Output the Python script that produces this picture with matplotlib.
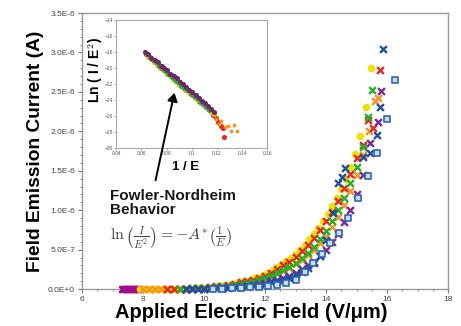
import numpy as np
import matplotlib
matplotlib.use("Agg")
import matplotlib.pyplot as plt
from matplotlib.patches import FancyArrowPatch
from matplotlib.ticker import MultipleLocator, FuncFormatter

plt.rcParams["font.family"] = ["Liberation Sans", "DejaVu Sans"]
plt.rcParams["mathtext.fontset"] = "cm"

# ---------------------------------------------------------
# Main data: applied field (V/um) vs emission current (uA)
# ---------------------------------------------------------
E_magenta = [7.30, 7.35, 7.40, 7.45, 7.50, 7.55, 7.60, 7.65, 7.70, 7.75, 7.80, 7.85, 7.90]
I_magenta = [0, 0, 0, 0, 0, 0, 0, 0, 0, 0, 0, 0, 0]

E_yellow = [7.90, 8.05, 8.20, 8.35, 8.50, 8.65, 8.80, 8.95, 9.10, 9.25, 9.40, 9.55, 9.70, 9.85,
            10.00, 10.15, 10.30, 10.45, 10.60, 10.75, 10.90, 11.05, 11.20, 11.35, 11.50, 11.65,
            11.80, 11.95, 12.10, 12.25, 12.40, 12.55, 12.70, 12.85, 13.00, 13.15, 13.30, 13.45,
            13.60, 13.75, 13.90, 14.05, 14.20, 14.35, 14.50, 14.65, 14.80, 14.95, 15.10, 15.30, 15.47]
I_yellow = [0, 0, 0, 0, 0, 0, 0, 0.001, 0.002, 0.003, 0.005, 0.007, 0.010, 0.014,
            0.018, 0.023, 0.030, 0.037, 0.045, 0.055, 0.065, 0.077, 0.090, 0.105, 0.120, 0.140,
            0.160, 0.185, 0.210, 0.245, 0.280, 0.320, 0.360, 0.400, 0.450, 0.500, 0.560, 0.630,
            0.700, 0.780, 0.860, 0.950, 1.050, 1.160, 1.270, 1.400, 1.550, 1.710, 1.940, 2.310, 2.800]

E_orange = [8.0, 8.2, 8.4, 8.6, 8.8, 9.0, 9.2, 9.4, 9.6, 9.8, 10.0, 10.2, 10.4, 10.6, 10.8,
            11.0, 11.2, 11.4, 11.6, 11.8, 12.0, 12.2, 12.4, 12.6, 12.8, 13.0, 13.2, 13.4, 13.6,
            13.8, 14.0, 14.2, 14.4, 14.6, 14.8, 15.0, 15.2, 15.4, 15.6, 15.7]
I_orange = [0, 0, 0, 0, 0.001, 0.002, 0.003, 0.005, 0.008, 0.011, 0.015, 0.020, 0.026, 0.033, 0.042,
            0.052, 0.063, 0.077, 0.092, 0.110, 0.130, 0.160, 0.190, 0.230, 0.270, 0.320, 0.370, 0.430,
            0.500, 0.580, 0.680, 0.790, 0.920, 1.070, 1.250, 1.450, 1.700, 2.000, 2.380, 2.420]

E_red = [8.8, 9.0, 9.2, 9.4, 9.6, 9.8, 10.0, 10.2, 10.4, 10.6, 10.8, 11.0, 11.2, 11.4, 11.6,
         11.8, 12.0, 12.2, 12.4, 12.6, 12.8, 13.0, 13.2, 13.4, 13.6, 13.8, 14.0, 14.2, 14.4,
         14.6, 14.8, 15.0, 15.22, 15.38, 15.55, 15.77]
I_red = [0.001, 0.003, 0.005, 0.007, 0.011, 0.015, 0.021, 0.028, 0.036, 0.045, 0.056, 0.070, 0.085,
         0.100, 0.120, 0.145, 0.170, 0.210, 0.250, 0.300, 0.350, 0.410, 0.480, 0.560, 0.650, 0.750,
         0.860, 0.980, 1.120, 1.280, 1.460, 1.660, 1.830, 2.140, 2.040, 2.780]

E_green = [9.2, 9.4, 9.6, 9.8, 10.0, 10.2, 10.4, 10.6, 10.8, 11.0, 11.2, 11.4, 11.6, 11.8, 12.0,
           12.2, 12.4, 12.6, 12.8, 13.0, 13.2, 13.4, 13.6, 13.8, 14.0, 14.2, 14.4, 14.6, 14.8,
           15.0, 15.2, 15.38, 15.5]
I_green = [0.004, 0.006, 0.009, 0.012, 0.016, 0.021, 0.027, 0.034, 0.043, 0.053, 0.065, 0.079, 0.095,
           0.115, 0.140, 0.170, 0.200, 0.240, 0.280, 0.330, 0.390, 0.460, 0.540, 0.630, 0.740, 0.860,
           1.000, 1.160, 1.350, 1.550, 1.800, 2.180, 2.520]

E_purple = [9.4, 9.6, 9.8, 10.0, 10.2, 10.4, 10.6, 10.8, 11.0, 11.2, 11.4, 11.6, 11.8, 12.0, 12.2,
            12.4, 12.6, 12.8, 13.0, 13.2, 13.4, 13.6, 13.8, 14.0, 14.2, 14.4, 14.6, 14.8, 15.0,
            15.2, 15.45, 15.7, 15.8]
I_purple = [0.003, 0.004, 0.006, 0.008, 0.011, 0.014, 0.019, 0.024, 0.030, 0.038, 0.046, 0.056, 0.067,
            0.080, 0.100, 0.120, 0.145, 0.170, 0.210, 0.250, 0.300, 0.350, 0.420, 0.500, 0.600, 0.700,
            0.850, 1.000, 1.200, 1.450, 1.850, 2.120, 2.510]

E_blue = [9.4, 9.6, 9.8, 10.0, 10.2, 10.4, 10.6, 10.8, 11.0, 11.2, 11.4, 11.6, 11.8, 12.0, 12.2,
          12.4, 12.6, 12.8, 13.0, 13.2, 13.4, 13.6, 13.8, 14.0, 14.24, 14.4, 14.51, 14.62, 15.2,
          15.44, 15.66, 15.77, 15.86]
I_blue = [0.002, 0.004, 0.005, 0.007, 0.010, 0.013, 0.016, 0.020, 0.026, 0.032, 0.040, 0.048, 0.058,
          0.070, 0.085, 0.100, 0.120, 0.145, 0.180, 0.220, 0.270, 0.330, 0.420, 0.620, 0.960, 1.340,
          1.420, 1.530, 1.670, 1.720, 1.950, 2.310, 3.050]

E_bluesq = [10.3, 10.6, 10.9, 11.2, 11.5, 11.8, 12.1, 12.4, 12.7, 13.0, 13.31, 13.58, 13.86, 14.13,
            14.43, 14.73, 15.06, 15.38, 15.66, 15.99, 16.26]
I_bluesq = [0.004, 0.006, 0.010, 0.015, 0.022, 0.030, 0.042, 0.058, 0.080, 0.120, 0.220, 0.330,
            0.450, 0.590, 0.710, 0.900, 1.150, 1.430, 1.720, 2.160, 2.650]

# ---------------------------------------------------------
# Inset data: Fowler-Nordheim plot, 1/E vs ln(I/E^2)
# ---------------------------------------------------------
inv_purple = [0.0630, 0.0655, 0.0680, 0.0705, 0.0730, 0.0755, 0.0780, 0.0805, 0.0830, 0.0855, 0.0880,
              0.0905, 0.0930, 0.0955, 0.0980, 0.1005, 0.1030, 0.1055, 0.1080, 0.1105, 0.1130, 0.1155, 0.1180]
ln_purple = [-18.0, -18.3, -18.7, -19.0, -19.3, -19.7, -20.0, -20.3, -20.7, -21.0, -21.3,
             -21.7, -22.0, -22.4, -22.7, -23.0, -23.4, -23.7, -24.1, -24.4, -24.8, -25.1, -25.5]
inv_green = [0.0640, 0.0665, 0.0690, 0.0715, 0.0740, 0.0765, 0.0790, 0.0815, 0.0840, 0.0865, 0.0890,
             0.0915, 0.0940, 0.0965, 0.0990, 0.1015, 0.1040, 0.1065, 0.1090, 0.1115, 0.1140]
ln_green = [-18.3, -18.6, -19.0, -19.3, -19.7, -20.0, -20.4, -20.8, -21.1, -21.5, -21.8,
            -22.2, -22.5, -22.8, -23.2, -23.5, -23.8, -24.2, -24.5, -24.9, -25.2]
inv_yellow = [0.0650, 0.0675, 0.0700, 0.0725, 0.0750, 0.0775, 0.0800, 0.0825, 0.0850, 0.0875, 0.0900,
              0.0925, 0.0950, 0.0975, 0.1000, 0.1025, 0.1050, 0.1075, 0.1100, 0.1125, 0.1150, 0.1175]
ln_yellow = [-18.6, -18.9, -19.3, -19.6, -20.0, -20.3, -20.7, -21.0, -21.4, -21.7, -22.1,
             -22.4, -22.7, -23.1, -23.4, -23.7, -24.1, -24.4, -24.8, -25.1, -25.5, -25.8]
inv_red = [0.0640, 0.0680, 0.0720, 0.0760, 0.0800, 0.0840, 0.0880, 0.0920, 0.0960, 0.1000, 0.1040,
           0.1080, 0.1120, 0.1150, 0.1170, 0.1190, 0.1210, 0.1230, 0.1245, 0.1255]
ln_red = [-18.2, -18.8, -19.3, -19.8, -20.4, -20.9, -21.5, -22.0, -22.6, -23.1, -23.7,
          -24.3, -24.9, -25.4, -25.9, -26.3, -26.8, -27.3, -27.5, -28.6]
inv_scatter = [0.1195, 0.1215, 0.1235, 0.1260, 0.1285, 0.1310, 0.1335, 0.1360]
ln_scatter = [-26.4, -27.0, -26.6, -27.4, -27.2, -27.9, -27.1, -27.9]

# ---------------------------------------------------------
# Plot
# ---------------------------------------------------------
fig = plt.figure(figsize=(4.61, 3.26), dpi=100)
ax = fig.add_axes([0.178, 0.113, 0.794, 0.847])

u = 1e-6
kw = dict(linewidths=1.7, s=24, zorder=3, clip_on=False)
ax.scatter(E_magenta, np.array(I_magenta) * u, color="#a0108c", marker="x", s=22, linewidths=1.8,
           zorder=3, clip_on=False)
ax.scatter(E_yellow, np.array(I_yellow) * u, color="#f2e000", marker="o", s=20, zorder=3, clip_on=False)
ax.scatter(E_orange, np.array(I_orange) * u, color="#f7941d", marker="x", **kw)
ax.scatter(E_red, np.array(I_red) * u, color="#e8261f", marker="x", **kw)
ax.scatter(E_green, np.array(I_green) * u, color="#22b02a", marker="x", **kw)
ax.scatter(E_purple, np.array(I_purple) * u, color="#7a2a96", marker="x", **kw)
ax.scatter(E_blue, np.array(I_blue) * u, color="#1f4f9e", marker="x", **kw)
ax.scatter(E_bluesq, np.array(I_bluesq) * u, facecolor="#c8dcf4", edgecolor="#2e64b4",
           marker="s", s=16, linewidths=1.2, zorder=3, clip_on=False)

ax.set_xlim(6, 18)
ax.set_ylim(0, 3.5e-6)
ax.xaxis.set_major_locator(MultipleLocator(2))
ax.xaxis.set_minor_locator(MultipleLocator(0.5))
ax.yaxis.set_major_locator(MultipleLocator(0.5e-6))
ax.yaxis.set_minor_locator(MultipleLocator(0.1e-6))


def sci_fmt(v, pos):
    if abs(v) < 1e-12:
        return "0.0E+0"
    exp = int(np.floor(np.log10(abs(v))))
    return f"{v / 10 ** exp:.1f}E{exp}"


ax.yaxis.set_major_formatter(FuncFormatter(sci_fmt))
ax.tick_params(which="both", direction="out", colors="#777777", labelcolor="#444444", labelsize=6)
ax.tick_params(which="major", length=3, width=0.8, pad=2)
ax.tick_params(which="minor", length=1.5, width=0.6)
for sp in ax.spines.values():
    sp.set_color("#999999")
    sp.set_linewidth(1.0)

ax.set_xlabel("Applied Electric Field (V/\u03bcm)", fontsize=14.5, fontweight="bold")
ax.xaxis.set_label_coords(0.463, -0.05)
ax.set_ylabel("Field Emission Current (A)", fontsize=13.8, fontweight="bold", labelpad=3)

# inset Fowler-Nordheim plot
ins = fig.add_axes([0.252, 0.546, 0.328, 0.393])
ins.scatter(inv_red, ln_red, color="#e8261f", s=7, zorder=3)
ins.scatter(inv_yellow, ln_yellow, color="#f2c000", s=7, zorder=3)
ins.scatter(inv_green, ln_green, color="#2fa84f", s=7, zorder=3)
ins.scatter(inv_purple, ln_purple, color="#6a2a6a", s=7, zorder=3)
ins.scatter(inv_scatter, ln_scatter, color="#f7941d", s=3, zorder=3)
ins.set_xlim(0.04, 0.16)
ins.set_ylim(-30, -14)
ins.set_xticks([0.04, 0.06, 0.08, 0.10, 0.12, 0.14, 0.16])
ins.set_xticklabels(["0.04", "0.06", "0.08", "0.1", "0.12", "0.14", "0.16"])
ins.yaxis.set_major_locator(MultipleLocator(2))
ins.tick_params(which="both", direction="out", colors="#888888", labelcolor="#555555",
                labelsize=3.5, length=1.5, width=0.5, pad=1)
for sp in ins.spines.values():
    sp.set_color("#aaaaaa")
    sp.set_linewidth(0.8)
ins.set_xlabel("1 / E", fontsize=9.5, fontweight="bold")
ins.xaxis.set_label_coords(0.46, -0.1)
ins.set_ylabel("Ln ( I / E$^2$)", fontsize=10, fontweight="bold")
ins.yaxis.set_label_coords(-0.075, 0.61)

# annotation
fig.text(0.239, 0.377, "Fowler-Nordheim\nBehavior", fontsize=11, fontweight="bold",
         color="#1a1a1a", ha="left", va="center", linespacing=1.0)
fig.text(0.239, 0.27, r"$\ln\left(\frac{I}{E^2}\right) = -A^{*}\left(\frac{1}{E}\right)$",
         fontsize=11.5, color="#444444", ha="left", va="center")
fig.patches.append(FancyArrowPatch(
    (155 / 461, 1 - 183 / 326), (175 / 461, 1 - 90 / 326), transform=fig.transFigure,
    arrowstyle="-|>,head_length=5,head_width=3", color="black", lw=1.4, zorder=10))

fig.savefig("out.png", dpi=100)
